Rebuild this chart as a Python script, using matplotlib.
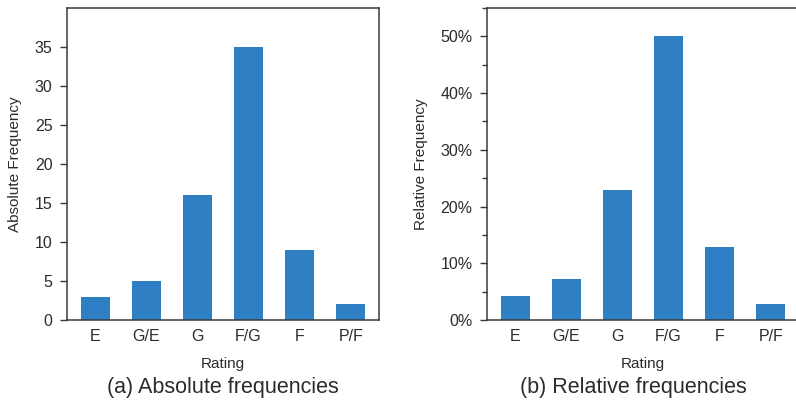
import matplotlib
matplotlib.use("Agg")
import matplotlib.pyplot as plt
from matplotlib.ticker import MultipleLocator, PercentFormatter

plt.rcParams['font.family'] = ['Liberation Sans', 'DejaVu Sans']

ratings = ["E", "G/E", "G", "F/G", "F", "P/F"]
counts = [3, 5, 16, 35, 9, 2]
total = sum(counts)
rel_freq = [c / total for c in counts]

bar_color = "#2e7fc4"
text_color = "#2b2b2b"
spine_color = "#3a3a3a"

fig = plt.figure(figsize=(7.96, 4.01), dpi=100)
ax1 = fig.add_axes([67 / 796, 81 / 401, 312 / 796, 312 / 401])
ax2 = fig.add_axes([487 / 796, 81 / 401, 312 / 796, 312 / 401])

x = range(len(ratings))


def style_axis(ax, ylabel):
    for s in ax.spines.values():
        s.set_color(spine_color)
        s.set_linewidth(1.1)
    ax.set_xlim(-0.55, 5.55)
    ax.set_xticks(list(x))
    ax.set_xticklabels(ratings)
    ax.tick_params(axis='x', length=0, pad=6.5, labelsize=11.5, labelcolor=text_color)
    ax.tick_params(axis='y', which='major', length=5, width=1, color=spine_color,
                   labelsize=11.5, labelcolor=text_color, pad=5.5)
    ax.set_xlabel("Rating", fontsize=11, color=text_color, labelpad=9.5)
    ax.set_ylabel(ylabel, fontsize=11, color=text_color, labelpad=9)


# (a) absolute
ax1.bar(x, counts, width=0.57, color=bar_color)
ax1.set_ylim(0, 40)
ax1.set_yticks(range(0, 40, 5))
style_axis(ax1, "Absolute Frequency")

# (b) relative
ax2.bar(x, rel_freq, width=0.57, color=bar_color)
ax2.set_ylim(0, 0.55)
ax2.set_yticks([0, 0.1, 0.2, 0.3, 0.4, 0.5])
ax2.yaxis.set_minor_locator(MultipleLocator(0.05))
ax2.yaxis.set_major_formatter(PercentFormatter(1.0, decimals=0))
ax2.tick_params(axis='y', which='minor', length=3.5, width=1, color=spine_color)
style_axis(ax2, "Relative Frequency")

fig.text(223 / 796, 1 - 387 / 401, "(a) Absolute frequencies", ha='center', va='center',
         fontsize=15.5, color=text_color)
fig.text(633 / 796, 1 - 387 / 401, "(b) Relative frequencies", ha='center', va='center',
         fontsize=15.5, color=text_color)

fig.savefig("out.png", dpi=100)
